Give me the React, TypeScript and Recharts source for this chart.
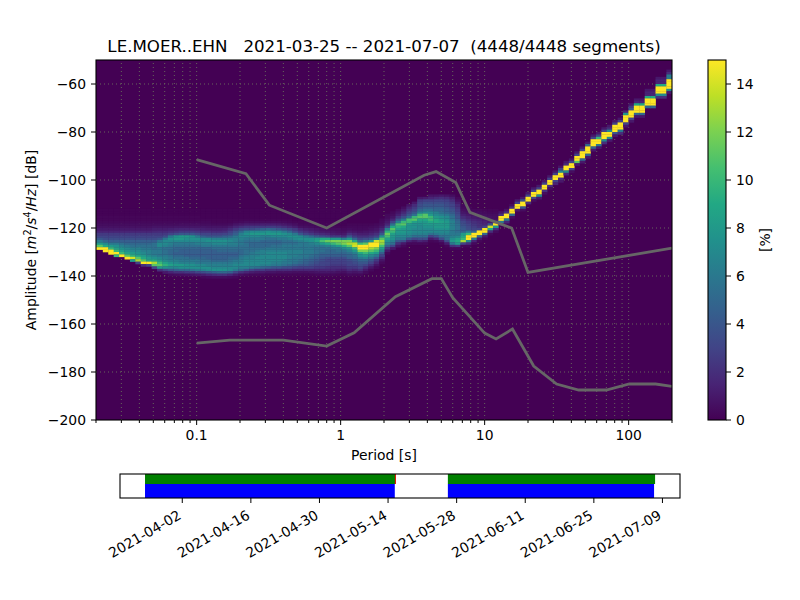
import React from "react";
import {
  Bar,
  BarChart,
  CartesianGrid,
  ReferenceArea,
  ReferenceLine,
  Scatter,
  ScatterChart,
  XAxis,
  YAxis,
} from "recharts";

const FONT = "'DejaVu Sans', sans-serif";

// period bin centres [s], one per heatmap column
const periodBins = [
  0.02137, 0.0233, 0.02541, 0.02771, 0.03022, 0.03296, 0.03594, 0.03919, 0.04274, 0.0466,
  0.05082, 0.05542, 0.06044, 0.06592, 0.07188, 0.07838, 0.08548, 0.0932, 0.10164, 0.11084,
  0.12088, 0.13184, 0.14376, 0.15676, 0.17096, 0.1864, 0.2033, 0.2217, 0.2418, 0.2637,
  0.2875, 0.3135, 0.3419, 0.3728, 0.4066, 0.4434, 0.4835, 0.5274, 0.575, 0.627,
  0.6838, 0.7456, 0.8132, 0.8867, 0.967, 1.055, 1.15, 1.254, 1.368, 1.491,
  1.626, 1.773, 1.934, 2.109, 2.3, 2.508, 2.735, 2.982, 3.253, 3.547,
  3.868, 4.218, 4.6, 5.016, 5.47, 5.965, 6.506, 7.094, 7.736, 8.436,
  9.2, 10.03, 10.94, 11.93, 13.01, 14.19, 15.47, 16.87, 18.4, 20.06,
  21.88, 23.86, 26.02, 28.38, 30.94, 33.74, 36.8, 40.13, 43.76, 47.72,
  52.05, 56.76, 61.89, 67.49, 73.6, 80.26, 87.52, 95.44, 104.1, 113.5,
  123.8, 135, 147.2, 160.5, 175.1, 190.9,
];

// upper dB edge of the first cell listed in each column
const columnTops = [
  -112, -112, -112, -112, -112, -112, -112, -112, -112, -112,
  -112, -112, -112, -112, -112, -112, -112, -112, -112, -112,
  -112, -112, -112, -112, -112, -112, -112, -112, -112, -112,
  -112, -112, -112, -112, -112, -112, -112, -112, -112, -112,
  -112, -112, -112, -112, -112, -112, -118, -118, -118, -118,
  -118, -118, -116, -114, -113, -112, -111, -110, -109, -107,
  -107, -106, -106, -106, -106, -106, -107, -110, -111, -112,
  -112, -112, -112, -112, -113, -112, -110, -108, -107, -105,
  -103, -102, -100, -98, -96, -94, -92, -91, -88, -86,
  -84, -81, -80, -78, -77, -75, -74, -71, -68, -66,
  -66, -62, -62, -57, -57, -54,
];

// percent of segments per 1 dB cell, going down from columnTops
const columnPct = [
  [.1,.1,.1,.2,.2,.3,.5,.7,1,1.5,2.5,3,4,6,8,11,15],
  [.1,.1,.1,.2,.2,.3,.5,.7,1,1.5,2.5,3,3.5,5,7,9,15,15],
  [.1,.1,.1,.2,.2,.3,.5,.7,1,1.5,2.5,3,3.5,4.5,6,8,10,15,15],
  [.1,.1,.1,.2,.2,.3,.5,.7,1,1.5,2.5,3,3.5,4.5,6,7.5,8.5,10,15,10],
  [.1,.1,.1,.2,.2,.3,.5,.7,1,1.5,2.5,3,3.5,4.5,5.5,6.5,7.5,8.5,10,15],
  [.1,.1,.1,.2,.2,.3,.5,.7,1,1.5,2.5,3,3.5,4.5,5,6,7,7.5,8.5,11,15],
  [.1,.1,.1,.2,.2,.3,.5,.7,1,1.5,2.5,3,3.5,4.5,5,5.5,6.5,7,8,9.5,14,8],
  [.1,.1,.1,.2,.2,.3,.5,.7,1,1.5,2.5,3,3.5,4.5,5,5.5,6.5,7,7.5,8.5,11,13,3],
  [.1,.1,.1,.2,.2,.3,.5,.7,1,1.5,2.5,3,3.5,4.5,5,5.5,6,6.5,7,8,9,11,15,2],
  [.1,.1,.1,.2,.2,.3,.5,.7,1,1.5,2.5,3,3.5,4.5,5,5.5,6,6.5,6.5,7,8,9,15,3],
  [.1,.1,.1,.2,.2,.3,.5,.8,1.2,1.7,2.5,3,3.5,4.5,5.5,5.5,5.5,6,6,6.5,7.5,9,13,11,3],
  [.1,.1,.1,.2,.2,.3,.5,.8,1.2,1.8,2.5,3,4,6,7,7,6,6,6,6,7,8,10,11,8,2],
  [.1,.1,.1,.2,.2,.3,.5,.8,1.2,1.8,2.5,3.5,6,7,7,6.5,5.5,5.5,5.5,6,6.5,7,8.5,9.5,7.5,3,1],
  [.1,.1,.1,.2,.2,.3,.5,.8,1.3,2,3,6,7.5,7,6.5,6,5.5,5,5,5.5,6,6.5,7.5,8.5,7,4,1.5,.4],
  [.1,.1,.1,.2,.2,.3,.5,.9,1.4,2.2,3.5,7.5,8,7,6,5.5,5,5,4.5,5,5.5,6.5,7,8,7,4.5,2,.5],
  [.1,.1,.1,.2,.2,.3,.6,.9,1.5,2.5,4,8,8,7,6,5.5,5,4.5,4.5,5,5.5,6,6.5,8,7.5,5,2,.6],
  [.1,.1,.1,.2,.2,.3,.6,.9,1.5,2.5,4,8,7.5,7,6,5.5,5,4.5,4.5,4.5,5.5,6,6.5,7.5,7.5,5,2.5,.7],
  [.1,.1,.1,.2,.2,.3,.6,.9,1.5,2.5,4,7.5,7.5,7,6,5.5,5,4.5,4.5,4.5,5,6,6.5,7.5,7.5,5.5,2.5,.8],
  [.1,.1,.1,.2,.2,.3,.6,.9,1.4,2.3,3.5,6,7.5,7,6.5,5.5,5,4.5,4.5,4.5,5,6,6,7,7.5,6,3,1],
  [.1,.1,.1,.1,.2,.3,.5,.9,1.3,2,3,4.5,7,7,6.5,6,5,4.5,4.5,4.5,5,5.5,6,7,7.5,6.5,3.5,1.2,.3],
  [.1,.1,.1,.1,.2,.3,.5,.8,1.2,2,3,4,7,7.5,6.5,6,5,4.5,4.5,4.5,4.5,5.5,6,6.5,7.5,7,4,1.5,.4],
  [.1,.1,.1,.1,.2,.2,.4,.8,1.2,1.8,2.8,4,6.5,7.5,7,6,5.5,4.5,4.5,4.5,4.5,5,6,6.5,7,7.5,4.5,1.8,.5],
  [.1,.1,.1,.1,.2,.2,.4,.8,1.2,1.8,2.8,4,6.5,7.5,7,6,5.5,5,4.5,4.5,4.5,5,6,6.5,7,7.5,5,2,.5],
  [.1,.1,.1,.1,.2,.2,.4,.8,1.3,2,3,4.5,6.5,7.5,7,6,5.5,5,4.5,4.5,4.5,5,6,6.5,7,7.5,5,2,.5],
  [.1,.1,.1,.1,.2,.2,.5,1.1,1.8,2.8,3.5,5,6.5,7,6.5,6,5.5,5,4.5,4.5,5,5.5,6,6.5,7,7,4.5,1.5,.4],
  [.1,.1,.1,.1,.2,.3,.8,1.5,2.5,3.8,4.5,6,6.5,6.5,6.5,6,5.5,5,4.5,4.5,5,6,6.5,7,7,6,3,1,.3],
  [.1,.1,.1,.1,.2,.4,1,2,3.2,5,6.5,7,6.5,6,6,5.5,5.5,5,5,5.5,6,6.5,6.5,7,6.5,5,2,.6],
  [.1,.1,.1,.1,.2,.5,1.2,2.3,3.5,6.5,7.5,7,6,5.5,5.5,5.5,5.5,5.5,5.5,6,6.5,7,7,7,6.5,4,1.5,.4],
  [.1,.1,.1,.1,.2,.5,1.2,2.5,3.5,7,8,7,6,5.5,5,5,5.5,5.5,6,6.5,6.5,7,7,7,6,3,1.2,.3],
  [.1,.1,.1,.1,.2,.5,1.2,2.5,4,7,8,7,6,5.5,5,5,5.5,6,6.5,6.5,7,7,7,7,5.5,2.5,1,.3],
  [.1,.1,.1,.1,.2,.5,1.3,2.5,4.5,7,8,6.5,6,5,5,5,5.5,6.5,6.5,7,7,7,7,6.5,5,2.5,1,.3],
  [.1,.1,.1,.1,.2,.5,1.3,2.6,5,7.5,8,6.5,5.5,5,5,5,6,6.5,7,7,7,7,7,6.5,4.5,2,.8,.2],
  [.1,.1,.1,.1,.2,.5,1.3,2.6,4.5,7,8,7,5.5,5,5,5.5,6,6.5,7,7,7,7,6.5,6,4,2,.8,.2],
  [.1,.1,.1,.1,.2,.5,1.2,2.4,4,7,8,7,6,5,5,5.5,6,6.5,7,7,7,7,6.5,6,4,1.8,.7,.2],
  [.1,.1,.1,.1,.2,.4,1,2,3.5,6,7.5,7,6,5.5,5.5,6,6,6.5,7,7,7,6.5,6,5.5,3.5,1.8,.7,.2],
  [.1,.1,.1,.1,.2,.3,.8,1.6,3,5,7,7.5,6.5,5.5,5.5,6,6,6.5,6.5,6.5,6.5,6,6,5,3.5,1.8,.7,.2],
  [.1,.1,.1,.1,.1,.2,.6,1.2,2.5,3.5,6,7.5,7,6,5.5,6,6,6.5,6.5,6.5,6,6,5.5,4.5,3,1.5,.6,.2],
  [.1,.1,.1,.1,.1,.2,.3,.7,1.5,2.5,4,7,7.5,6.5,6,6,6,6.5,6.5,6,6,5.5,5,4,2.8,1.5,.6,.2],
  [.1,.1,.1,.1,.1,.2,.3,.6,1.2,2,3,6,7.5,7,6,6,6,6,6,6,5.5,5,4.5,4,2.8,1.5,.6,.2],
  [.1,.1,.1,.1,.1,.2,.3,.5,1,1.5,2.5,5,7.5,7.5,6.5,6,6,6,6,5.5,5,4.5,4,3.5,2.8,1.5,.7,.2],
  [.1,.1,.1,.1,.1,.1,.2,.4,.8,1.2,2,4,8,8.5,7,6,5.5,5.5,5.5,5,4.5,4,3.5,3,2.5,1.5,.8,.3],
  [.1,.1,.1,.1,.1,.1,.2,.4,.7,1,1.8,3.5,9,10.5,8,6,5.5,5.5,5,4.5,4,3.5,3,3,2.5,1.5,.9,.3],
  [.1,.1,.1,.1,.1,.1,.2,.3,.6,.9,1.5,3,9,11.5,9,6.5,5.5,5,5,4.5,3.5,3,3,2.8,2.2,1.5,.9,.3],
  [.1,.1,.1,.1,.1,.1,.1,.3,.5,.8,1.2,2.5,8,12,10,7,6,5,5,4.5,3.5,3,2.8,2.5,2,1.5,.8,.3],
  [.1,.1,.1,.1,.1,.1,.1,.2,.5,.7,1,2.5,8,12,11,8,6,5.5,5,4.5,3.5,3,2.8,2.5,2,1.3,.7,.2],
  [.1,.1,.1,.1,.1,.1,.1,.2,.4,.6,1,2,6.5,12,12,9.5,7,5.5,5,4.5,3.5,3,2.8,2.5,2,1.2,.6,.2],
  [.2,.3,.5,1,2,4,8,12,13,11,8,6.5,5.5,5,4.5,3.5,3,3,2.5,1.8,1,.4],
  [.2,.3,.4,.8,1.5,2.5,5,9,13.5,14,10,8,6.5,5.5,5,4,3.5,3,2.5,1.5,.8,.3],
  [.2,.3,.4,.7,1.2,2,3,5,10,15,15,12,9,7.5,6,5,4,3.5,3,2,1,.3],
  [.2,.3,.4,.8,1.2,2,3.5,6,11,15,15,12,10,8,6.5,5,4,3,2,1,.4],
  [.2,.4,.6,1,1.5,2.5,4,8,15,15,13,11,9,7,5.5,4,3,2,1,.3],
  [.3,.5,.8,1.2,2,3,6,14,15,15,12,10,8,6,4,2.5,1.5,.8,.3],
  [.3,.4,.6,1,1.6,2.5,4,7.5,11,13,12.5,10.5,8.5,6.5,4.5,3,1.8,.8,.3],
  [.3,.4,.7,1,1.6,3,6.5,9.5,11.5,10.5,8.5,7.5,6.5,4.5,2.5,1,.3],
  [.3,.5,.8,1.5,3,5.5,9,11,10,8.5,8,7.5,6.5,5.5,3,1],
  [.4,.8,1.3,2.3,4,6.5,10.5,9.5,8.5,8,7.5,7,6,4,2,.8],
  [.5,1,1.6,2.4,3.5,6,10,11,9,8,8,7.5,7,6,3.5,1,.3],
  [.8,1.5,2.2,3,4,5.5,10.5,10,8,7.5,7.5,7.5,7,6.5,4,1.5,.3],
  [1,1.8,2.5,3,4,5.5,10,11,8.5,7.5,7.5,7,7,6.5,5.5,3,1,.3],
  [1,2.5,3,3.5,4,5,6.5,10,11,9,8,7.5,7,7,7,6.5,5.5,3.5,1.5,.3],
  [1.2,2.8,3.5,4,4.5,5.5,7,11,11,9,8,8,7.5,7,7,6.5,5.5,3.5,1.2,.3],
  [.8,1.5,2.8,3.5,4,4.5,5.5,7,8,10,10,9,8,7.5,7,7,5.5,3,1,.2],
  [.8,1.8,3,3.5,4,4.5,5,6.5,7,8,9,9,8,8,7.5,7,6,4,1.5,.3],
  [1,2,3,3.5,4,4.5,5,5.5,6.5,7.5,8,8.5,8,8,7.5,7,6.5,5.5,3.5,1,.2],
  [.8,1.8,2.8,3.2,3.5,4,4.5,5,6,7,7.5,8,8,8,7.5,7,6.5,6,5.5,3.5,1.2,.2],
  [.5,1.2,2,2.6,3,3.3,3.8,4.2,5,5.5,6,6.5,6.5,6.5,6.5,6,6,6.5,7.5,8,6,2,.3],
  [.3,.7,1.2,1.8,2.2,2.6,3,3.4,3.8,4.5,5,5.5,5.5,5.5,5.5,6,7,8.5,9,8,2.5,.3],
  [.3,.4,.6,.9,1.3,1.9,2.6,3.2,3.6,4,4.3,4.8,8,9,10,13,3,.3],
  [.3,.5,.7,1,1.4,1.9,2.5,3,3.3,3.5,6,10,15,15,7,2,.3],
  [.3,.5,.8,1.1,1.5,2,2.4,2.7,3,5,15,15,6,1.5,.3],
  [.3,.5,.7,1,1.3,1.7,2,2.2,3,15,15,5,1,.2],
  [.2,.4,.6,.8,1.1,1.4,1.7,3,15,15,5,1,.2],
  [.2,.3,.5,.7,.9,1.1,4,14,9,2,.3],
  [.2,.3,.5,.6,.8,5,15,8,2,.4],
  [.8,2,15,15,6,1],
  [.8,2,15,15,6,1.5],
  [.5,2,15,15,5,.5],
  [1,3,15,15,1],
  [1,4,15,15,4,.5],
  [1,3,15,15,2],
  [1,3,15,15,3,.5],
  [1,3,15,15,7,1],
  [1,3,15,15,2,.5],
  [1,3,15,15,2,.5],
  [1,3,15,15,3,1.5],
  [.8,3,7,15,15,2,1],
  [1,2,15,15,7,1.5],
  [1,3,15,15,3,.5],
  [1,3,15,15,11,1],
  [1,3,15,15,15,5,1],
  [1,5,15,15,15,5,1],
  [1,3,15,15,15,5,1],
  [1,3,10,15,15,6,1],
  [1,3,15,15,15,7,2],
  [1,2,7,15,15,7,1],
  [1,3,15,15,15,4,1],
  [1,3,15,15,15,6,2],
  [1.5,8,15,15,15,3,1],
  [1,2.5,4,15,15,15,3,1],
  [1,1.5,9,15,15,15,5,1],
  [1,1.5,9,15,15,15,5,1],
  [1,1.5,1.5,9,15,15,15,5],
  [1,1.5,1.5,9,15,15,15,5],
  [1,1.5,1.5,9,15,15,15,7,2],
  [1,1.5,1.5,9,15,15,15,7,2],
  [1,2,6,6,15,15,15,15,7,1],
];

// Peterson noise models
const nhnmPeriods = [0.1, 0.22, 0.32, 0.8, 3.8, 4.6, 6.3, 7.9, 15.4, 20, 200];
const nhnmDb = [-91.5, -97.4, -110.5, -120, -98, -96.5, -101, -113.5, -120, -138.5, -128.4];
const nlnmPeriods = [0.1, 0.17, 0.4, 0.8, 1.24, 2.4, 4.3, 5, 6, 10, 12, 15.6, 21.9, 31.6, 45, 70, 101, 154, 200];
const nlnmDb = [-168, -166.7, -166.7, -169.2, -163.7, -148.6, -141.1, -141.1, -149, -163.8, -166.2, -162.1, -177.5, -185, -187.5, -187.5, -185, -185, -186];

const majorPeriods = [0.1, 1, 10, 100];
const minorPeriods = [
  0.02, 0.03, 0.04, 0.05, 0.06, 0.07, 0.08, 0.09,
  0.2, 0.3, 0.4, 0.5, 0.6, 0.7, 0.8, 0.9,
  2, 3, 4, 5, 6, 7, 8, 9,
  20, 30, 40, 50, 60, 70, 80, 90, 200,
];
const dbTicks = [-60, -80, -100, -120, -140, -160, -180, -200];
const pctTicks = [0, 2, 4, 6, 8, 10, 12, 14];

// availability panel
const dateTicks = [
  "2021-04-02", "2021-04-16", "2021-04-30", "2021-05-14",
  "2021-05-28", "2021-06-11", "2021-06-25", "2021-07-09",
];
const dateDomain = ["2021-03-20T07:00Z", "2021-07-12T14:00Z"];
const greenSegments = [
  ["2021-03-25T09:30Z", "2021-05-15T14:00Z"],
  ["2021-05-26T05:00Z", "2021-07-07T12:00Z"],
];
const blueSegments = [
  ["2021-03-25T09:30Z", "2021-05-15T09:00Z"],
  ["2021-05-26T05:00Z", "2021-07-07T07:00Z"],
];
const redSegments = [["2021-05-15T09:30Z", "2021-05-15T14:00Z"]];

const viridis = [
  "#440154", "#482475", "#414487", "#355f8d", "#2a788e", "#21918c",
  "#22a884", "#44bf70", "#7ad151", "#bddf26", "#fde725",
];

const hexToRgb = (h: string) => [1, 3, 5].map((i) => parseInt(h.slice(i, i + 2), 16));

function pctColor(pct: number) {
  const t = Math.min(pct / 15, 1) * (viridis.length - 1);
  const i = Math.min(Math.floor(t), viridis.length - 2);
  const a = hexToRgb(viridis[i]);
  const b = hexToRgb(viridis[i + 1]);
  const c = a.map((v, k) => Math.round(v + (b[k] - v) * (t - i)));
  return `rgb(${c[0]},${c[1]},${c[2]})`;
}

const heatCells = columnPct.flatMap((col, i) =>
  col.map((pct, k) => ({ period: periodBins[i], db: columnTops[i] - 0.5 - k, pct }))
);
const nhnm = nhnmPeriods.map((period, i) => ({ period, db: nhnmDb[i] }));
const nlnm = nlnmPeriods.map((period, i) => ({ period, db: nlnmDb[i] }));

const dateCorners = dateDomain.map((d) => ({ t: Date.parse(d), row: 12 }));

const PLOT_LEFT = 96;
const CELL_W = 5.42;
const CELL_H = 2.4;

function HeatCell(props: any) {
  const left = props.cx - CELL_W / 2;
  const x = left < PLOT_LEFT + 3 ? PLOT_LEFT : left;
  return (
    <rect
      x={x}
      y={props.cy - CELL_H / 2}
      width={left + CELL_W - x + 0.3}
      height={CELL_H + 0.3}
      fill={pctColor(props.payload.pct)}
    />
  );
}

function PeriodTick({ x, y, payload }: any) {
  const major = majorPeriods.includes(payload.value);
  return (
    <g>
      <line x1={x} x2={x} y1={y} y2={y + (major ? 5 : 3)} stroke="#000" />
      {major && (
        <text x={x} y={y + 20} textAnchor="middle" fontSize={13.9} fill="#000">
          {payload.value}
        </text>
      )}
    </g>
  );
}

function DateTick({ x, y, payload }: any) {
  const label = new Date(payload.value).toISOString().slice(0, 10);
  return (
    <g>
      <line x1={x} x2={x} y1={y} y2={y + 5} stroke="#000" />
      <text
        x={x}
        y={y + 20}
        textAnchor="end"
        fontSize={13.9}
        fill="#000"
        transform={`rotate(-30 ${x} ${y + 20})`}
      >
        {label}
      </text>
    </g>
  );
}

const minusFormat = (v: number) => String(v).replace("-", "\u2212");
const hideShape = () => null;
const gridStroke = "#66665c";

function dateBands(segments: string[][], y1: number, y2: number, fill: string) {
  return segments.map((s) => (
    <ReferenceArea
      key={fill + s[0]}
      x1={Date.parse(s[0])}
      x2={Date.parse(s[1])}
      y1={y1}
      y2={y2}
      fill={fill}
      fillOpacity={1}
      stroke="none"
    />
  ));
}

export default function App() {
  return (
    <div style={{ position: "absolute", left: 0, top: 0, width: 800, height: 600, fontFamily: FONT, background: "#fff" }}>
      <div style={{ position: "absolute", left: 0, top: 0 }}>
        <ScatterChart width={800} height={600} margin={{ top: 60, right: 128, bottom: 0, left: 0 }}>
          <CartesianGrid fill="#440154" horizontal={false} vertical={false} />
          <XAxis
            type="number"
            dataKey="period"
            scale="log"
            domain={[0.02, 200]}
            allowDataOverflow
            ticks={[...minorPeriods, ...majorPeriods].sort((a, b) => a - b)}
            interval={0}
            height={180}
            tick={PeriodTick}
            tickLine={false}
            axisLine={false}
            tickSize={0}
            tickMargin={0}
          />
          <YAxis
            type="number"
            dataKey="db"
            domain={[-200, -50]}
            ticks={dbTicks}
            interval={0}
            width={96}
            tickSize={5}
            tickMargin={5}
            tickLine={{ stroke: "#000" }}
            axisLine={false}
            tick={{ fill: "#000", fontSize: 13.9 }}
            tickFormatter={minusFormat}
          />
          <Scatter data={heatCells} shape={HeatCell} isAnimationActive={false} />
          <Scatter
            data={nhnm}
            line={{ stroke: "#666", strokeWidth: 2.8 }}
            lineType="joint"
            shape={hideShape}
            isAnimationActive={false}
          />
          <Scatter
            data={nlnm}
            line={{ stroke: "#666", strokeWidth: 2.8 }}
            lineType="joint"
            shape={hideShape}
            isAnimationActive={false}
          />
          {[...minorPeriods.slice(1, -1), ...majorPeriods].map((p) => (
            <ReferenceLine key={p} x={p} stroke={gridStroke} strokeDasharray="1 3" strokeWidth={1} />
          ))}
          {dbTicks.slice(0, -1).map((d) => (
            <ReferenceLine key={d} y={d} stroke={gridStroke} strokeDasharray="1 3" strokeWidth={1} />
          ))}
        </ScatterChart>
      </div>

      <div style={{ position: "absolute", left: 700, top: 0 }}>
        <BarChart
          width={92}
          height={600}
          data={[{ pct: 15 }]}
          margin={{ top: 60, right: 0, bottom: 180, left: 8 }}
          barCategoryGap={0}
        >
          <defs>
            <linearGradient id="viridisBar" x1="0" y1="1" x2="0" y2="0">
              {viridis.map((c, i) => (
                <stop key={c} offset={i / (viridis.length - 1)} stopColor={c} />
              ))}
            </linearGradient>
          </defs>
          <XAxis hide />
          <YAxis
            orientation="right"
            type="number"
            domain={[0, 15]}
            ticks={pctTicks}
            interval={0}
            width={66}
            tickSize={5}
            tickMargin={5}
            tickLine={{ stroke: "#000" }}
            axisLine={false}
            tick={{ fill: "#000", fontSize: 13.9 }}
          />
          <Bar dataKey="pct" fill="url(#viridisBar)" isAnimationActive={false} />
        </BarChart>
      </div>

      <div style={{ position: "absolute", left: 0, top: 0 }}>
        <ScatterChart width={800} height={600} margin={{ top: 474, right: 120, bottom: 0, left: 120 }}>
          <XAxis
            type="number"
            dataKey="t"
            domain={dateDomain.map((d) => Date.parse(d))}
            allowDataOverflow
            ticks={dateTicks.map((d) => Date.parse(d))}
            interval={0}
            height={102}
            tick={DateTick}
            tickLine={false}
            axisLine={false}
            tickSize={0}
            tickMargin={0}
          />
          <YAxis hide type="number" dataKey="row" domain={[0, 24]} width={0} />
          <Scatter data={dateCorners} shape={hideShape} isAnimationActive={false} />
          {dateBands(greenSegments, 14, 24, "#008000")}
          {dateBands(blueSegments, 0, 14, "#0000ff")}
          {dateBands(redSegments, 14, 24, "#ff0000")}
        </ScatterChart>
      </div>

      <svg width={800} height={600} style={{ position: "absolute", left: 0, top: 0, pointerEvents: "none" }}>
        <rect x={96} y={60} width={576} height={360} fill="none" stroke="#000" strokeWidth={1.1} />
        <rect x={708} y={60} width={18} height={360} fill="none" stroke="#000" strokeWidth={1.1} />
        <rect x={120} y={474} width={560} height={24} fill="none" stroke="#000" strokeWidth={1.1} />
        <text x={384} y={52} textAnchor="middle" fontSize={16.67} fill="#000" style={{ whiteSpace: "pre" }}>
          LE.MOER..EHN   2021-03-25 -- 2021-07-07  (4448/4448 segments)
        </text>
        <text x={384} y={460} textAnchor="middle" fontSize={13.9} fill="#000">
          Period [s]
        </text>
        <text x={36} y={240} textAnchor="middle" fontSize={13.9} fill="#000" transform="rotate(-90 36 240)">
          Amplitude [<tspan fontStyle="italic">m</tspan>
          <tspan dy={-5} fontSize={9.7}>2</tspan>
          <tspan dy={5}>/</tspan>
          <tspan fontStyle="italic">s</tspan>
          <tspan dy={-5} fontSize={9.7}>4</tspan>
          <tspan dy={5}>/</tspan>
          <tspan fontStyle="italic">Hz</tspan>] [dB]
        </text>
        <text x={770} y={240} textAnchor="middle" fontSize={13.9} fill="#000" transform="rotate(-90 770 240)">
          [%]
        </text>
      </svg>
    </div>
  );
}
